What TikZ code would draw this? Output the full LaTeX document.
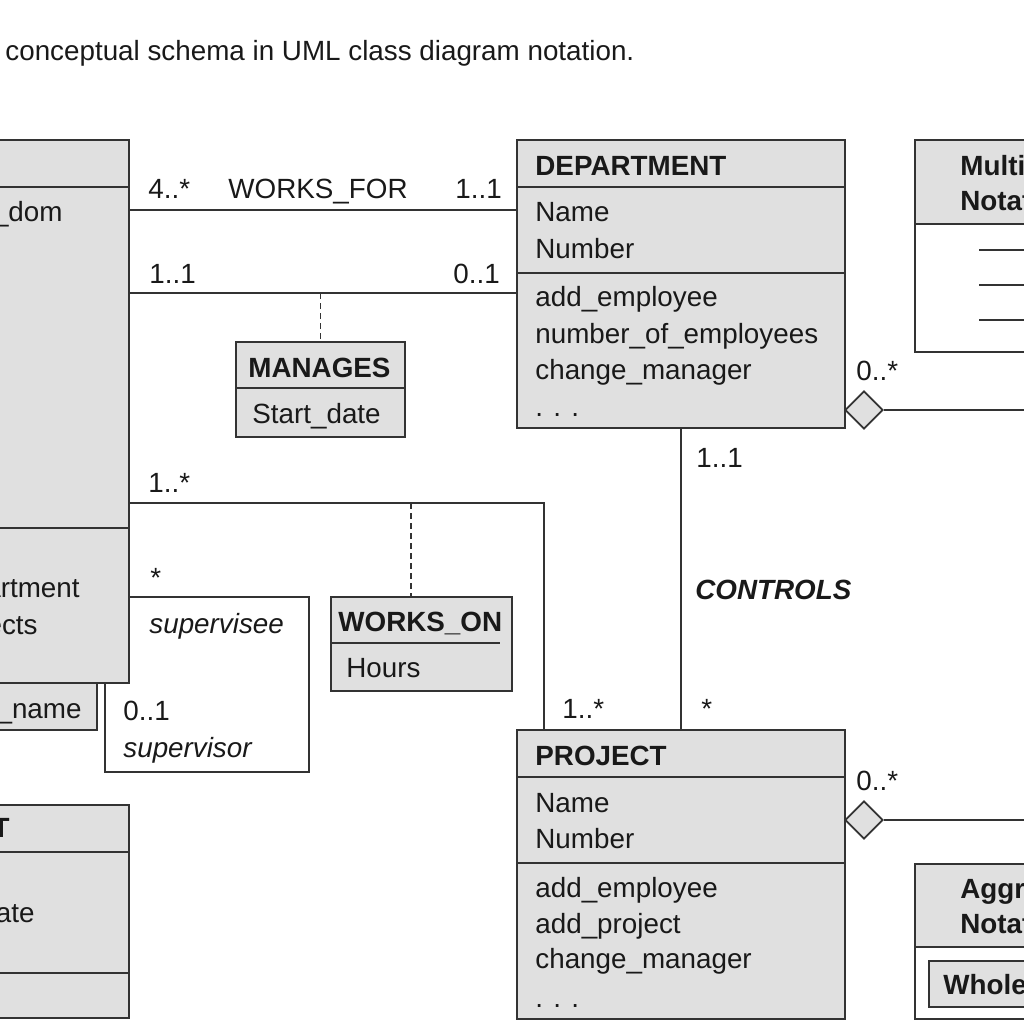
\documentclass[tikz,border=0pt]{standalone}
\usepackage{fontspec}
\setmainfont{Liberation Sans}
\usepackage{xcolor}
\usetikzlibrary{fit,shapes.geometric}

\definecolor{boxgray}{RGB}{224,224,224}
\definecolor{linegray}{RGB}{51,51,51}
\definecolor{inkblack}{RGB}{25,25,25}

\tikzset{
	classbox/.style={draw=linegray, line width=0.9pt, fill=boxgray, inner sep=0pt},
	notebox/.style={draw=linegray, line width=0.9pt, fill=white, inner sep=0pt},
	txt/.style={anchor=base west, inner sep=0pt, text=inkblack, font=\fontsize{13.9}{16}\selectfont},
	txtr/.style={txt, anchor=base east},
	head/.style={txt, font=\fontsize{13.9}{16}\selectfont\bfseries},
	headr/.style={head, anchor=base east},
	role/.style={txt, font=\fontsize{13.9}{16}\selectfont\itshape},
	assoc/.style={draw=linegray, line width=0.9pt},
	link/.style={assoc, dash pattern=on 3pt off 2pt},
	aggr/.style={diamond, draw=linegray, line width=0.9pt, fill=boxgray, minimum width=19pt, minimum height=19pt, inner sep=0pt},
}

\begin{document}
\begin{tikzpicture}[x=0.5pt,y=0.5pt,yscale=-1,xscale=1]
		\useasboundingbox (0,0) rectangle (1024,1024);
		
		% Text Node
		\node[txt] (caption) at (5,60) {conceptual schema in UML class diagram notation.};
		
		%Shape: Class [EMPLOYEE]
		\node[classbox, fit={(-200,140)(129,683)}] (emp) {};
		\draw[assoc] (emp.west |- 0,187) -- (emp.east |- 0,187);
		\draw[assoc] (emp.west |- 0,528) -- (emp.east |- 0,528);
		\node[txtr] (emp1) at (63,221) {Name: Name\_dom};
		\node[txtr] (emp2) at (80,597) {change\_department};
		\node[txtr] (emp3) at (38,634) {change\_projects};
		
		%Shape: Qualifier [Dependent_name]
		\node[classbox, fit={(-100,683)(97,730)}] (qual) {};
		\node[txtr] (qual1) at (82,718) {Dependent\_name};
		
		%Shape: Class [DEPENDENT]
		\node[classbox, fit={(-200,805)(129,1018)}] (dep) {};
		\draw[assoc] (dep.west |- 0,852) -- (dep.east |- 0,852);
		\draw[assoc] (dep.west |- 0,973) -- (dep.east |- 0,973);
		\node[headr] (depname) at (10,837) {DEPENDENT};
		\node[txtr] (dep1) at (35,922) {Birth\_date: Date};
		
		%Shape: Class [DEPARTMENT]
		\node[classbox, fit={(517,140)(845,428)}] (dept) {};
		\draw[assoc] (dept.west |- 0,187) -- (dept.east |- 0,187);
		\draw[assoc] (dept.west |- 0,273) -- (dept.east |- 0,273);
		\node[head] (deptname) at (535,175) {DEPARTMENT};
		\node[txt] (dept1) at (535,221) {Name};
		\node[txt] (dept2) at (535,258) {Number};
		\node[txt] (dept3) at (535,306) {add\_employee};
		\node[txt] (dept4) at (535,343) {number\_of\_employees};
		\node[txt] (dept5) at (535,379) {change\_manager};
		\node[txt] (dept6) at (535,416) {. . .};
		
		%Shape: Class [PROJECT]
		\node[classbox, fit={(517,730)(845,1019)}] (proj) {};
		\draw[assoc] (proj.west |- 0,777) -- (proj.east |- 0,777);
		\draw[assoc] (proj.west |- 0,863) -- (proj.east |- 0,863);
		\node[head] (projname) at (535,765) {PROJECT};
		\node[txt] (proj1) at (535,812) {Name};
		\node[txt] (proj2) at (535,848) {Number};
		\node[txt] (proj3) at (535,897) {add\_employee};
		\node[txt] (proj4) at (535,933) {add\_project};
		\node[txt] (proj5) at (535,968) {change\_manager};
		\node[txt] (proj6) at (535,1007) {. . .};
		
		%Shape: Association class [MANAGES]
		\node[classbox, fit={(236,342)(405,437)}] (mgr) {};
		\draw[assoc] (mgr.west |- 0,388) -- (mgr.east |- 0,388);
		\node[head] (mgrname) at (248,377) {MANAGES};
		\node[txt] (mgr1) at (252,423) {Start\_date};
		
		%Shape: Association class [WORKS_ON]
		\node[classbox, fit={(331,597)(512,691)}] (won) {};
		\draw[assoc] (won.west |- 0,643) -- (500,643);
		\node[head] (wonname) at (338,631) {WORKS\_ON};
		\node[txt] (won1) at (346,677) {Hours};
		
		%Shape: Multiplicity notation
		\node[classbox, fit={(915,140)(1100,224)}] (multhead) {};
		\node[notebox, fit={(915,224)(1100,352)}] (multbody) {};
		\node[head] (mult1) at (960,175) {Multiplicity};
		\node[head] (mult2) at (960,210) {Notation in OMT:};
		\draw[assoc] (979,250) -- (multbody.east |- 0,250);
		\draw[assoc] (979,285) -- (multbody.east |- 0,285);
		\draw[assoc] (979,320) -- (multbody.east |- 0,320);
		
		%Shape: Aggregation notation
		\node[classbox, fit={(915,864)(1100,947)}] (agghead) {};
		\node[notebox, fit={(915,947)(1100,1019)}] (aggbody) {};
		\node[head] (agg1) at (960,898) {Aggregation};
		\node[head] (agg2) at (960,933) {Notation in UML:};
		\node[classbox, fit={(929,961)(1100,1007)}] (whole) {};
		\node[head] (whole1) at (943,994) {Whole};
		
		% Associations
		\draw[assoc] (emp.east |- 0,210) -- (dept.west |- 0,210);
		\draw[assoc] (emp.east |- 0,293) -- (dept.west |- 0,293);
		\draw[link] (mgr.north |- 0,293) -- (mgr.north);
		\draw[assoc] (emp.east |- 0,503) -- (544,503) -- (544,0 |- proj.north);
		\coordinate (wonlink) at (411,503);
		\draw[link] (wonlink) -- (wonlink |- won.north);
		\draw[assoc] (emp.east |- 0,597) -- (309,597) -- (309,772) -- (105,772) -- (105,0 |- emp.south);
		\draw[assoc] (dept.south -| 681,0) -- (proj.north -| 681,0);
		
		% Aggregations
		\node[aggr] (dgdept) at (864,410) {};
		\coordinate (locdept) at (1100,410);
		\draw[assoc] (dgdept.east) -- (locdept);
		\node[aggr] (dgproj) at (864,820) {};
		\coordinate (locproj) at (1100,820);
		\draw[assoc] (dgproj.east) -- (locproj);
		
		% Text Node
		\node[txt] (m1) at (148,198) {4..*};
		\node[txt] (wf) at (228,198) {WORKS\_FOR};
		\node[txt] (m2) at (455,198) {1..1};
		\node[txt] (m3) at (149,283) {1..1};
		\node[txt] (m4) at (453,283) {0..1};
		\node[txt] (m5) at (148,492) {1..*};
		\node[txt] (m6) at (150,587) {*};
		\node[role] (r1) at (149,633) {supervisee};
		\node[txt] (m7) at (123,720) {0..1};
		\node[role] (r2) at (123,757) {supervisor};
		\node[txt] (m8) at (562,718) {1..*};
		\node[txt] (m9) at (701,718) {*};
		\node[txt] (m10) at (696,467) {1..1};
		\node[txt, font=\fontsize{13.9}{16}\selectfont\bfseries\itshape] (ctl) at (695,599) {CONTROLS};
		\node[txt] (m11) at (856,380) {0..*};
		\node[txt] (m12) at (856,790) {0..*};
		
\end{tikzpicture}
\end{document}
